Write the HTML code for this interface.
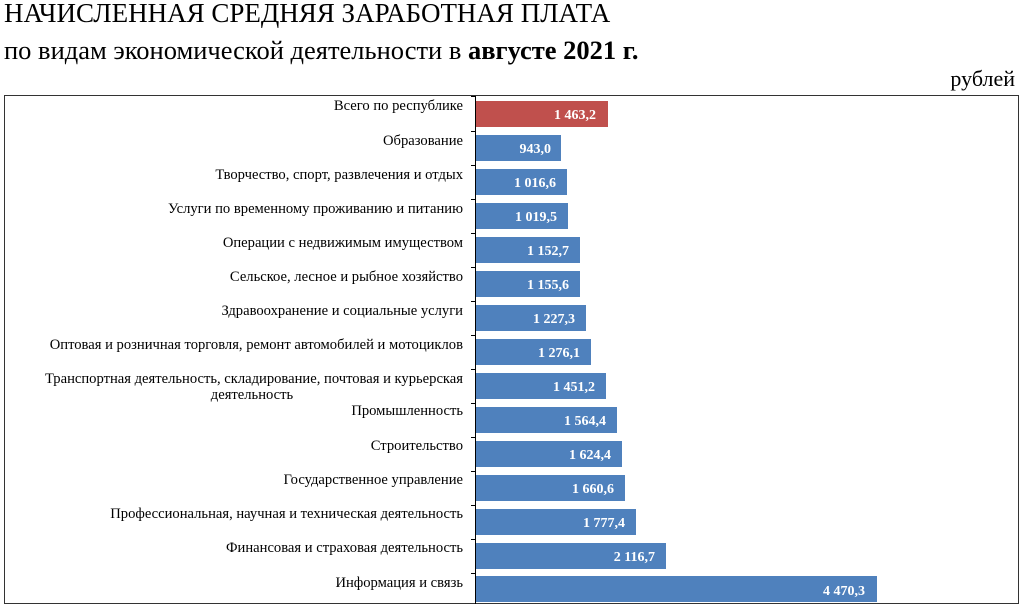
<!DOCTYPE html>
<html><head><meta charset="utf-8"><style>
html,body{margin:0;padding:0;background:#fff;width:1024px;height:611px;overflow:hidden}
svg{display:block}
.t{font-family:"Liberation Serif",serif;fill:#000}
.l{font-family:"Liberation Serif",serif;font-size:14.6px;fill:#000}
.v{font-family:"Liberation Serif",serif;font-size:14px;font-weight:bold;fill:#fff}
</style></head><body>
<svg width="1024" height="611" xmlns="http://www.w3.org/2000/svg">
<text class="t" x="4" y="22" font-size="27">НАЧИСЛЕННАЯ СРЕДНЯЯ ЗАРАБОТНАЯ ПЛАТА</text>
<text class="t" x="4" y="59" font-size="26.5">по видам экономической деятельности в <tspan font-weight="bold">августе 2021 г.</tspan></text>
<text class="t" x="1015" y="86" font-size="22" text-anchor="end">рублей</text>
<rect x="4.5" y="95.5" width="1014" height="508" fill="none" stroke="#333" stroke-width="1"/>
<g id="bars">
<rect x="476" y="101" width="132" height="26" fill="#C0504D"/>
<rect x="476" y="135" width="85" height="26" fill="#4F81BD"/>
<rect x="476" y="169" width="91" height="26" fill="#4F81BD"/>
<rect x="476" y="203" width="92" height="26" fill="#4F81BD"/>
<rect x="476" y="237" width="104" height="26" fill="#4F81BD"/>
<rect x="476" y="271" width="104" height="26" fill="#4F81BD"/>
<rect x="476" y="305" width="110" height="26" fill="#4F81BD"/>
<rect x="476" y="339" width="115" height="26" fill="#4F81BD"/>
<rect x="476" y="373" width="130" height="26" fill="#4F81BD"/>
<rect x="476" y="407" width="141" height="26" fill="#4F81BD"/>
<rect x="476" y="441" width="146" height="26" fill="#4F81BD"/>
<rect x="476" y="475" width="149" height="26" fill="#4F81BD"/>
<rect x="476" y="509" width="160" height="26" fill="#4F81BD"/>
<rect x="476" y="543" width="190" height="26" fill="#4F81BD"/>
<rect x="476" y="576" width="401" height="26" fill="#4F81BD"/>
</g>
<line x1="475.5" y1="96" x2="475.5" y2="604" stroke="#000" stroke-width="1"/>
<g stroke="#000" stroke-width="1">
<line x1="471" y1="96.5" x2="476" y2="96.5"/><line x1="471" y1="131.5" x2="476" y2="131.5"/><line x1="471" y1="165.5" x2="476" y2="165.5"/><line x1="471" y1="199.5" x2="476" y2="199.5"/><line x1="471" y1="233.5" x2="476" y2="233.5"/><line x1="471" y1="267.5" x2="476" y2="267.5"/><line x1="471" y1="301.5" x2="476" y2="301.5"/><line x1="471" y1="335.5" x2="476" y2="335.5"/><line x1="471" y1="369.5" x2="476" y2="369.5"/><line x1="471" y1="403.5" x2="476" y2="403.5"/><line x1="471" y1="437.5" x2="476" y2="437.5"/><line x1="471" y1="471.5" x2="476" y2="471.5"/><line x1="471" y1="505.5" x2="476" y2="505.5"/><line x1="471" y1="539.5" x2="476" y2="539.5"/><line x1="471" y1="573.5" x2="476" y2="573.5"/>
</g>
<g class="l" text-anchor="end">
<text class="l" x="463" y="110">Всего по республике</text>
<text class="l" x="463" y="145">Образование</text>
<text class="l" x="463" y="179">Творчество, спорт, развлечения и отдых</text>
<text class="l" x="463" y="213">Услуги по временному проживанию и питанию</text>
<text class="l" x="463" y="247">Операции с недвижимым имуществом</text>
<text class="l" x="463" y="281">Сельское, лесное и рыбное хозяйство</text>
<text class="l" x="463" y="315">Здравоохранение и социальные услуги</text>
<text class="l" x="463" y="349">Оптовая и розничная торговля, ремонт автомобилей и мотоциклов</text>
<text class="l" x="463" y="383">Транспортная деятельность, складирование, почтовая и курьерская</text>
<text class="l" x="252" y="399" text-anchor="middle">деятельность</text>
<text class="l" x="463" y="415">Промышленность</text>
<text class="l" x="463" y="450">Строительство</text>
<text class="l" x="463" y="484">Государственное управление</text>
<text class="l" x="463" y="518">Профессиональная, научная и техническая деятельность</text>
<text class="l" x="463" y="552">Финансовая и страховая деятельность</text>
<text class="l" x="463" y="587">Информация и связь</text>
</g>
<g text-anchor="end">
<text class="v" x="596" y="119">1 463,2</text>
<text class="v" x="551" y="153">943,0</text>
<text class="v" x="556" y="187">1 016,6</text>
<text class="v" x="557" y="221">1 019,5</text>
<text class="v" x="569" y="255">1 152,7</text>
<text class="v" x="569" y="289">1 155,6</text>
<text class="v" x="575" y="323">1 227,3</text>
<text class="v" x="580" y="357">1 276,1</text>
<text class="v" x="595" y="391">1 451,2</text>
<text class="v" x="606" y="425">1 564,4</text>
<text class="v" x="611" y="459">1 624,4</text>
<text class="v" x="614" y="493">1 660,6</text>
<text class="v" x="625" y="527">1 777,4</text>
<text class="v" x="655" y="561">2 116,7</text>
<text class="v" x="865" y="595">4 470,3</text>
</g>
</svg>
</body></html>
